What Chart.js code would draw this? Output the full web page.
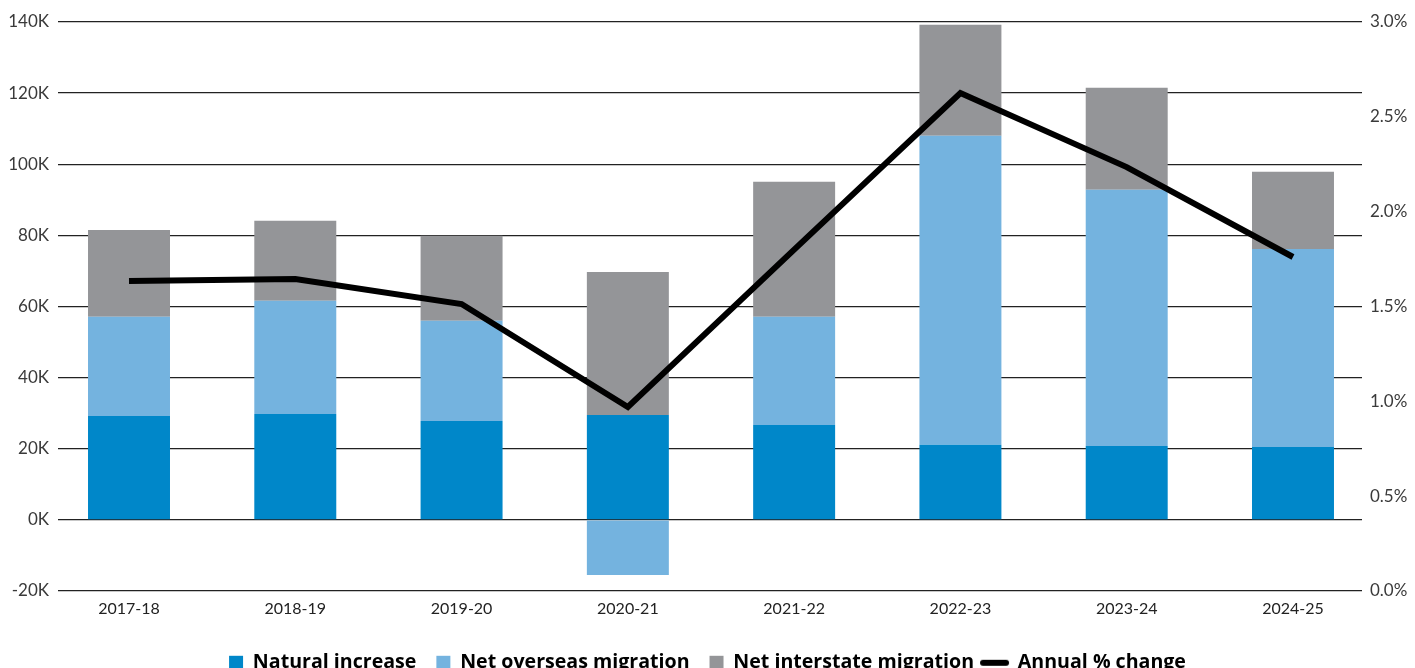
<!DOCTYPE html>
<html>
<head>
<meta charset="utf-8">
<script src="https://cdn.jsdelivr.net/npm/chart.js@4"></script>
<style>
html,body{margin:0;padding:0;background:#fff;}
#wrap{width:1415px;height:668px;position:relative;}
</style>
</head>
<body>
<div id="wrap"><canvas id="c" width="1415" height="668"></canvas></div>
<script>
const categories = ['2017-18','2018-19','2019-20','2020-21','2021-22','2022-23','2023-24','2024-25'];
const naturalIncrease = [29.2, 29.8, 27.8, 29.5, 26.7, 21.1, 20.8, 20.5];
const netOverseas = [27.9, 31.8, 28.2, -15.5, 30.4, 86.9, 72.0, 55.7];
const netInterstate = [24.4, 22.5, 23.9, 40.2, 38.0, 31.2, 28.7, 21.7];
const annualChange = [1.634, 1.645, 1.513, 0.970, 1.80, 2.625, 2.235, 1.761];
const leftTicks = [-20, 0, 20, 40, 60, 80, 100, 120, 140];
const rightTicks = [0, 0.5, 1.0, 1.5, 2.0, 2.5, 3.0];

const FONT = 'Lato, "Open Sans", sans-serif';
const LEGEND_FONT = '"Open Sans", Lato, sans-serif';
const pts = arr => arr.map((v,i)=>({x:i, y:v}));

// legend symbol for the line series: a short thick rounded stroke (shifted left inside the image)
const lineSymbol = document.createElement('canvas');
lineSymbol.width = 44; lineSymbol.height = 8;
(function(){
  const g = lineSymbol.getContext('2d');
  g.strokeStyle = '#000'; g.lineWidth = 6; g.lineCap = 'round';
  g.beginPath(); g.moveTo(4,4); g.lineTo(27,4); g.stroke();
})();

const legendHeightPlugin = {
  id:'legendHeight',
  afterInit(chart){
    const lg = chart.legend;
    if(!lg) return;
    const orig = lg.fit;
    lg.fit = function(){ orig.call(this); this.height = 35; };
  }
};

const ctx = document.getElementById('c');
new Chart(ctx, {
  data: {
    datasets: [
      {type:'bar', label:'Natural increase', data:pts(naturalIncrease), backgroundColor:'#0087C9', yAxisID:'y', order:1, barPercentage:0.493, categoryPercentage:1},
      {type:'bar', label:'Net overseas migration', data:pts(netOverseas), backgroundColor:'#74B3DF', yAxisID:'y', order:1, barPercentage:0.493, categoryPercentage:1},
      {type:'bar', label:'Net interstate migration', data:pts(netInterstate), backgroundColor:'#949598', yAxisID:'y', order:1, barPercentage:0.493, categoryPercentage:1},
      {type:'line', label:'Annual % change', data:pts(annualChange), borderColor:'#000', backgroundColor:'#000', borderWidth:6, pointRadius:0, tension:0, yAxisID:'y1', order:0, borderCapStyle:'butt', borderJoinStyle:'miter'}
    ]
  },
  plugins:[legendHeightPlugin],
  options: {
    responsive:false,
    animation:false,
    layout:{padding:{top:22,left:0,right:0,bottom:0}},
    plugins:{
      tooltip:{enabled:false},
      legend:{
        position:'bottom',
        labels:{
          font:{family:LEGEND_FONT, size:19.6, weight:'bold'},
          color:'#000',
          usePointStyle:true,
          boxWidth:14, boxHeight:14,
          padding:20,
          generateLabels(chart){
            return chart.data.datasets.map((ds,i)=>({
              text: ds.label,
              fillStyle: ds.type==='line' ? '#000' : ds.backgroundColor,
              strokeStyle: ds.type==='line' ? '#000' : ds.backgroundColor,
              lineWidth: 0,
              pointStyle: ds.type==='line' ? lineSymbol : 'rect',
              datasetIndex:i,
              hidden:false
            }));
          }
        }
      }
    },
    scales:{
      x:{
        type:'linear',
        stacked:true,
        offset:false,
        min:-0.427, max:7.415,
        afterBuildTicks(axis){ axis.ticks = categories.map((c,i)=>({value:i})); },
        afterFit(axis){ axis.height = 42; },
        grid:{display:false, drawTicks:false},
        border:{display:false},
        ticks:{font:{family:FONT,size:16}, color:'#222', padding:8, autoSkip:false, maxRotation:0, callback:v=>categories[v] ?? ''}
      },
      y:{
        stacked:true,
        position:'left',
        min:-20, max:140,
        afterBuildTicks(axis){ axis.ticks = leftTicks.map(v=>({value:v})); },
        afterFit(axis){ axis.width = 58; },
        grid:{color:'#222', lineWidth:1.3, drawTicks:false},
        border:{display:false},
        ticks:{font:{family:FONT,size:17}, color:'#3a3a3a', padding:9, callback:v=>v+'K'}
      },
      y1:{
        position:'right',
        min:0, max:3,
        afterBuildTicks(axis){ axis.ticks = rightTicks.map(v=>({value:v})); },
        afterFit(axis){ axis.width = 53; },
        grid:{display:false, drawTicks:false},
        border:{display:false},
        ticks:{font:{family:FONT,size:17}, color:'#3a3a3a', padding:8, callback:v=>v.toFixed(1)+'%'}
      }
    }
  }
});
</script>
</body>
</html>
